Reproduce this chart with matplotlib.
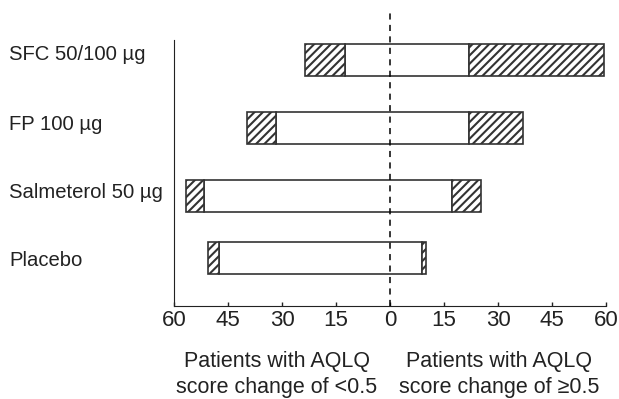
import matplotlib.pyplot as plt
import matplotlib as mpl
import numpy as np

treatments = ["SFC 50/100 µg", "FP 100 µg", "Salmeterol 50 µg", "Placebo"]
# extents (percent of patients)
outer_left = [23.7, 39.6, 56.7, 50.6]
inner_left = [12.6, 31.7, 51.6, 47.5]
inner_right = [22.0, 22.0, 17.1, 9.0]
outer_right = [59.4, 37.0, 25.2, 10.1]
ticks = [-60, -45, -30, -15, 0, 15, 30, 45, 60]

mpl.rcParams["font.family"] = ["Liberation Sans", "DejaVu Sans"]
mpl.rcParams["hatch.linewidth"] = 1.5
mpl.rcParams["hatch.color"] = "#555555"

W, H = 619, 399
fig = plt.figure(figsize=(W / 100, H / 100), dpi=100)
ax = fig.add_axes([174 / W, 1 - 306 / H, (606 - 174) / W, (306 - 13) / H])

ypos = np.array([0, 1, 2, 2.91])
bh = 0.47
ec = "#333333"
ol, il = np.array(outer_left), np.array(inner_left)
ir, orr = np.array(inner_right), np.array(outer_right)

ax.barh(ypos, il + ir, left=-il, height=bh, color="white", edgecolor=ec, lw=1.2, zorder=2)
ax.barh(ypos, ol - il, left=-ol, height=bh, color="white", edgecolor=ec, lw=1.2,
        hatch="////", zorder=2)
ax.barh(ypos, orr - ir, left=ir, height=bh, color="white", edgecolor=ec, lw=1.2,
        hatch="////", zorder=2)

ax.axvline(0, color="black", lw=1.1, dashes=(4, 3.5), zorder=3)

ax.set_xlim(-60, 60)
ax.set_ylim((306 - 60) / 68, (13 - 60) / 68)
ax.set_xticks(ticks)
ax.set_xticklabels([str(abs(t)) for t in ticks], fontsize=16)
ax.tick_params(axis="x", direction="in", length=3, width=1, pad=3, colors="#222222")
ax.set_yticks([])
for s in ["top", "right"]:
    ax.spines[s].set_visible(False)
ax.spines["left"].set_bounds((306 - 60) / 68, (40 - 60) / 68)
ax.spines["left"].set_color("#222222")
ax.spines["bottom"].set_color("#222222")

label_y = [55, 125, 192, 260]
for name, yp in zip(treatments, label_y):
    fig.text(9 / W, 1 - yp / H, name, fontsize=14.6, ha="left", va="center", color="#222222")

fig.text(277 / W, 1 - 361 / H, "Patients with AQLQ", fontsize=15.5, ha="center", va="center",
         color="#222222")
fig.text(277 / W, 1 - 387 / H, "score change of <0.5", fontsize=15.5, ha="center", va="center",
         color="#222222")
fig.text(499 / W, 1 - 361 / H, "Patients with AQLQ", fontsize=15.5, ha="center", va="center",
         color="#222222")
fig.text(499 / W, 1 - 387 / H, "score change of \u22650.5", fontsize=15.5, ha="center", va="center",
         color="#222222")

fig.savefig("out.png", dpi=100)
